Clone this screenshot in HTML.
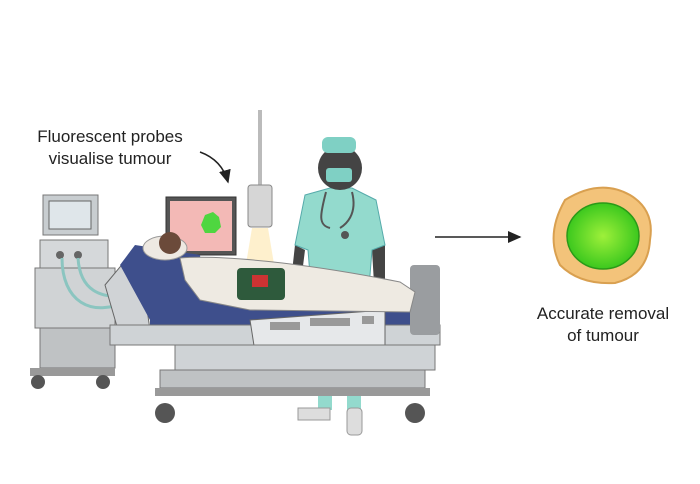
<!DOCTYPE html>
<html><head><meta charset="utf-8"><style>
html,body{margin:0;padding:0;background:#fff;width:700px;height:484px;overflow:hidden}
svg{display:block}
text{font-family:"Liberation Sans",sans-serif;fill:#222}
</style></head><body>
<svg width="700" height="484" viewBox="0 0 700 484" xmlns="http://www.w3.org/2000/svg">
<defs>
<marker id="ah" markerWidth="10" markerHeight="10" refX="8" refY="5" orient="auto"><path d="M0,1 L9,5 L0,9 Z" fill="#222"/></marker>
<radialGradient id="g" cx="50%" cy="50%" r="50%"><stop offset="0" stop-color="#9ef03a"/><stop offset="1" stop-color="#3cc81e"/></radialGradient>
</defs>
<text x="110" y="142" font-size="17" text-anchor="middle">Fluorescent probes</text>
<text x="110" y="164" font-size="17" text-anchor="middle">visualise tumour</text>
<path d="M200,152 Q222,160 228,182" fill="none" stroke="#222" stroke-width="1.5" marker-end="url(#ah)"/>
<!-- machine -->
<rect x="43" y="195" width="55" height="40" fill="#c8cdd0" stroke="#777"/>
<rect x="49" y="201" width="42" height="28" fill="#dfe6ea" stroke="#666"/>
<rect x="40" y="240" width="68" height="28" fill="#d5d8da" stroke="#777"/>
<circle cx="60" cy="255" r="4" fill="#666"/><circle cx="78" cy="255" r="4" fill="#666"/>
<rect x="35" y="268" width="80" height="60" fill="#d0d3d5" stroke="#777"/>
<rect x="40" y="328" width="75" height="40" fill="#bfc2c4" stroke="#777"/>
<rect x="30" y="368" width="85" height="8" fill="#999"/>
<circle cx="38" cy="382" r="7" fill="#555"/><circle cx="103" cy="382" r="7" fill="#555"/>
<path d="M62,258 C62,300 90,320 130,300 M78,258 C80,290 100,300 130,295" stroke="#8bc5c0" stroke-width="3" fill="none"/>
<!-- monitor -->
<rect x="166" y="197" width="70" height="58" fill="#555" stroke="#333"/>
<rect x="170" y="201" width="62" height="50" fill="#f3b9b6"/>
<path d="M205,215 l8,-3 6,5 2,10 -6,6 -10,0 -4,-8 z" fill="#4fd640"/>
<!-- lamp -->
<rect x="258" y="110" width="4" height="80" fill="#bbb"/>
<rect x="248" y="185" width="24" height="42" rx="3" fill="#d6d6d6" stroke="#888"/>
<path d="M252,228 L268,228 L275,270 L245,270 Z" fill="#fde9b8" opacity=".7"/>
<!-- doctor (behind bed) -->
<rect x="318" y="300" width="14" height="110" fill="#93dacd"/><rect x="347" y="300" width="14" height="110" fill="#93dacd"/>
<path d="M298,408 L330,408 L330,420 L298,420 Z" fill="#ddd" stroke="#999"/><rect x="347" y="408" width="15" height="27" rx="4" fill="#ddd" stroke="#999"/>
<path d="M295,245 L290,290 L300,290 L305,250 Z M385,245 L385,300 L375,300 L372,250 Z" fill="#444"/>
<path d="M305,195 L330,188 L352,188 L376,200 L385,245 L372,250 L368,300 L312,300 L308,250 L295,245 Z" fill="#93dacd" stroke="#5aa"/>
<circle cx="340" cy="168" r="22" fill="#444"/>
<rect x="322" y="137" width="34" height="16" rx="6" fill="#7fd0c4"/>
<rect x="326" y="168" width="26" height="14" rx="3" fill="#7fd0c4"/>
<path d="M326,192 C320,215 318,225 330,228 M352,192 C358,215 345,225 340,228" stroke="#555" stroke-width="2" fill="none"/>
<circle cx="345" cy="235" r="4" fill="#555"/>
<!-- bed -->
<path d="M105,285 L130,255 L140,260 L150,330 L118,330 Z" fill="#d0d3d6" stroke="#666"/>
<path d="M120,265 L135,245 L200,255 L205,300 L150,320 Z" fill="#3e4f8c"/>
<rect x="150" y="300" width="270" height="28" fill="#3e4f8c"/>
<rect x="110" y="325" width="330" height="20" fill="#cfd3d6" stroke="#777"/>
<rect x="410" y="265" width="30" height="70" rx="4" fill="#9a9da0"/>
<path d="M250,320 L385,310 L385,345 L255,352 Z" fill="#e6e8ea" stroke="#666"/>
<rect x="270" y="322" width="30" height="8" fill="#999"/><rect x="310" y="318" width="40" height="8" fill="#999"/><rect x="362" y="316" width="12" height="8" fill="#999"/>
<rect x="175" y="345" width="260" height="25" fill="#cfd3d6" stroke="#777"/>
<rect x="160" y="370" width="265" height="18" fill="#bfc2c4" stroke="#777"/>
<rect x="155" y="388" width="275" height="8" fill="#999"/>
<circle cx="165" cy="413" r="10" fill="#555"/><circle cx="415" cy="413" r="10" fill="#555"/>
<!-- patient -->
<ellipse cx="165" cy="248" rx="22" ry="12" fill="#eee9e2" stroke="#999"/>
<circle cx="170" cy="243" r="11" fill="#6b4a3a"/>
<path d="M180,258 C220,255 300,262 400,282 L415,292 L410,312 L250,310 L200,300 L185,280 Z" fill="#eeeae2" stroke="#888"/>
<rect x="237" y="268" width="48" height="32" rx="4" fill="#2e5a3c"/>
<rect x="252" y="275" width="16" height="12" fill="#c33"/>
<!-- arrow -->
<line x1="435" y1="237" x2="520" y2="237" stroke="#222" stroke-width="1.5" marker-end="url(#ah)"/>
<!-- tumour -->
<path d="M565,200 Q600,178 630,195 Q655,210 650,240 Q648,275 615,283 Q580,285 560,265 Q545,235 565,200 Z" fill="#f3c37a" stroke="#d9a050" stroke-width="2"/>
<ellipse cx="603" cy="236" rx="36" ry="33" fill="url(#g)" stroke="#2a9a18" stroke-width="1.5"/>
<text x="603" y="319" font-size="17" text-anchor="middle">Accurate removal</text>
<text x="603" y="341" font-size="17" text-anchor="middle">of tumour</text>
</svg>
</body></html>
